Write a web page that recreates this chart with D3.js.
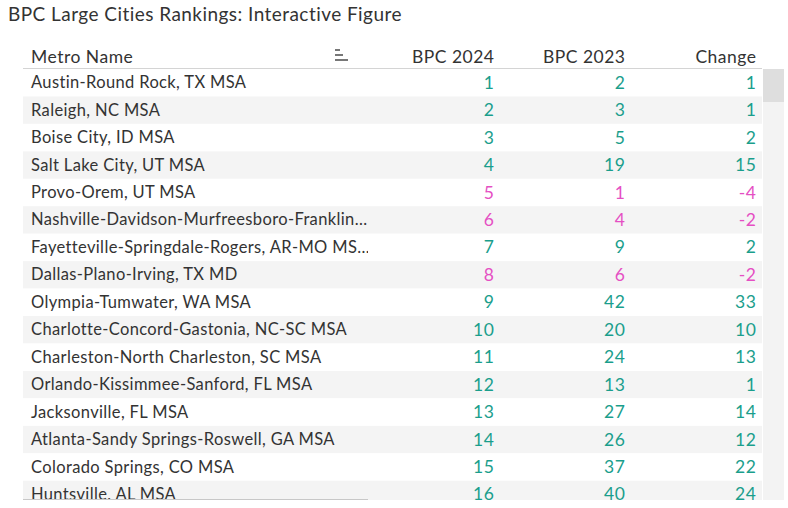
<!DOCTYPE html>
<html><head><meta charset="utf-8">
<script src="https://cdn.jsdelivr.net/npm/d3@7"></script>
<style>body{margin:0;background:#fff;}svg{display:block;font-family:Lato,"Open Sans",sans-serif;}</style>
</head><body><svg id="c" width="788" height="508"></svg>
<script>
const title = "BPC Large Cities Rankings: Interactive Figure";
const columns = ["Metro Name", "BPC 2024", "BPC 2023", "Change"];
const metros = [
  "Austin-Round Rock, TX MSA",
  "Raleigh, NC MSA",
  "Boise City, ID MSA",
  "Salt Lake City, UT MSA",
  "Provo-Orem, UT MSA",
  "Nashville-Davidson-Murfreesboro-Franklin…",
  "Fayetteville-Springdale-Rogers, AR-MO MS…",
  "Dallas-Plano-Irving, TX MD",
  "Olympia-Tumwater, WA MSA",
  "Charlotte-Concord-Gastonia, NC-SC MSA",
  "Charleston-North Charleston, SC MSA",
  "Orlando-Kissimmee-Sanford, FL MSA",
  "Jacksonville, FL MSA",
  "Atlanta-Sandy Springs-Roswell, GA MSA",
  "Colorado Springs, CO MSA",
  "Huntsville, AL MSA"
];
const bpc2024 = [1,2,3,4,5,6,7,8,9,10,11,12,13,14,15,16];
const bpc2023 = [2,3,5,19,1,4,9,6,42,20,24,13,27,26,37,40];
const change  = [1,1,2,15,-4,-2,2,-2,33,10,13,1,14,12,22,24];

const svg = d3.select("#c");
const L = 23, R = 762, T = 69, B = 500, nameRight = 368;
const rowH = 27.45;

svg.append("text").attr("x", 8).attr("y", 21).attr("font-size", 19)
  .attr("letter-spacing", 0.45).attr("fill", "#333").text(title);

const defs = svg.append("defs");
defs.append("clipPath").attr("id", "nameClip").append("rect")
  .attr("x", L).attr("y", T).attr("width", nameRight - L).attr("height", B - T);
defs.append("clipPath").attr("id", "bodyClip").append("rect")
  .attr("x", L).attr("y", T).attr("width", R - L).attr("height", B - T);

const y = d3.scaleBand().domain(d3.range(metros.length)).range([T, T + rowH * metros.length]);
const colX = d3.scaleOrdinal().domain(columns.slice(1)).range([494, 625, 756]);

// header
svg.append("text").attr("x", 31).attr("y", 63.3).attr("font-size", 17.5).attr("letter-spacing", 0.5)
  .attr("fill", "#333").text(columns[0]);
columns.slice(1).forEach(c => {
  svg.append("text").attr("x", colX(c) + 0.5).attr("y", 63.3).attr("text-anchor", "end")
    .attr("font-size", 17.5).attr("letter-spacing", 0.5).attr("fill", "#333").text(c);
});
// sort icon
[[50,5],[55,8],[60,13]].forEach(([yy,w]) => {
  svg.append("rect").attr("x", 335).attr("y", yy - 1).attr("width", w).attr("height", 2).attr("fill", "#777");
});
svg.append("line").attr("x1", L).attr("x2", R).attr("y1", 68.5).attr("y2", 68.5)
  .attr("stroke", "#d4d4d4").attr("stroke-width", 1.2);

const body = svg.append("g").attr("clip-path", "url(#bodyClip)");
const rowData = metros.map((m, i) => ({m, i}));
body.selectAll("rect.row").data(rowData).join("rect").attr("class", "row")
  .attr("x", L).attr("y", d => y(d.i)).attr("width", R - L).attr("height", y.bandwidth())
  .attr("fill", d => d.i % 2 ? "#f4f4f4" : "#fff");

const names = svg.append("g").attr("clip-path", "url(#nameClip)");
names.selectAll("text").data(rowData).join("text")
  .attr("x", 31).attr("y", d => y(d.i) + y.bandwidth() / 2 + 5.5)
  .attr("font-size", 16.5).attr("letter-spacing", 0.36).attr("fill", "#333").text(d => d.m);

const colVals = [bpc2024, bpc2023, change];
const teal = "#1a9e8c", pink = "#e54fc3";
columns.slice(1).forEach((c, ci) => {
  body.selectAll("text.c" + ci).data(colVals[ci].map((v, i) => ({v, i}))).join("text")
    .attr("class", "c" + ci)
    .attr("x", colX(c) + 0.6).attr("y", d => y(d.i) + y.bandwidth() / 2 + 6)
    .attr("text-anchor", "end").attr("font-size", 17.5).attr("letter-spacing", 0.6)
    .attr("fill", d => change[d.i] < 0 ? pink : teal).text(d => d.v);
});

// bottom line under name column
svg.append("line").attr("x1", L).attr("x2", nameRight).attr("y1", 499.5).attr("y2", 499.5)
  .attr("stroke", "#c8c8c8").attr("stroke-width", 1.2);
// scrollbar
svg.append("rect").attr("x", 763).attr("y", T).attr("width", 21).attr("height", B - T).attr("fill", "#f3f3f3");
svg.append("rect").attr("x", 763).attr("y", T).attr("width", 21).attr("height", 33).attr("fill", "#dedede");
</script></body></html>
